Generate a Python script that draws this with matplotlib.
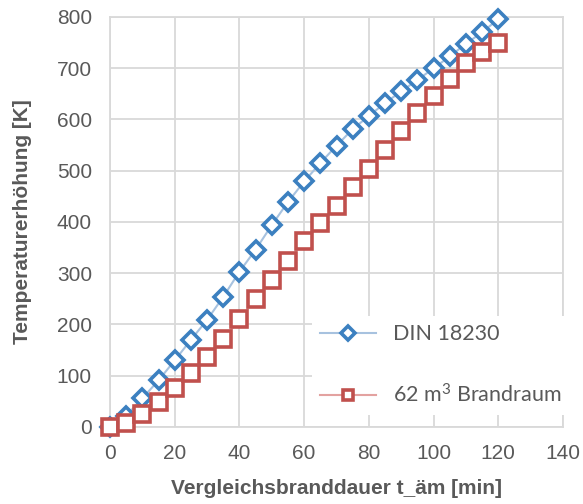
import matplotlib.pyplot as plt

# Vergleichsbranddauer in Minuten
zeit = [0, 5, 10, 15, 20, 25, 30, 35, 40, 45, 50, 55, 60,
        65, 70, 75, 80, 85, 90, 95, 100, 105, 110, 115, 120]

# Temperaturerhöhung nach DIN 18230
din_18230 = [0, 22, 56, 91, 130, 170, 209, 254, 303, 346, 394, 439, 479,
             515, 549, 581, 607, 632, 655, 677, 700, 723, 748, 770, 796]

# Temperaturerhöhung im 62 m³ Brandraum
brandraum = [0, 7, 25, 48, 77, 105, 136, 171, 210, 250, 287, 324, 362,
             398, 431, 468, 503, 540, 578, 612, 645, 679, 710, 732, 749]

grau = '#595959'
gitter = '#d9d9d9'

plt.rcParams['font.family'] = ['Liberation Sans', 'DejaVu Sans']
plt.rcParams['mathtext.fontset'] = 'custom'
plt.rcParams['mathtext.rm'] = 'Lato'
plt.rcParams['mathtext.default'] = 'regular'

fig = plt.figure(figsize=(5.83, 5.04), dpi=100)
ax = fig.add_axes([0.1887, 0.1528, 0.777, 0.8135])

ax.plot(zeit, din_18230, color='#a7c2df', linewidth=1.5,
        marker='D', markersize=9.5, markerfacecolor='white',
        markeredgecolor='#3c80c0', markeredgewidth=2.6,
        label='DIN 18230', zorder=3, clip_on=False)
ax.plot(zeit, brandraum, color='#e3a2a0', linewidth=1.5,
        marker='s', markersize=11, markerfacecolor='white',
        markeredgecolor='#c0504d', markeredgewidth=2.6,
        label='62 m$^3$ Brandraum', zorder=3, clip_on=False)

ax.set_xlim(0, 140)
ax.set_ylim(0, 800)
ax.set_xticks(range(0, 141, 20))
ax.set_yticks(range(0, 801, 100))
ax.grid(True, color=gitter, linewidth=1.3)
ax.set_axisbelow(True)
for s in ax.spines.values():
    s.set_color(gitter)
    s.set_linewidth(1.3)
ax.tick_params(length=0, labelsize=15, labelcolor=grau)
ax.tick_params(axis='y', pad=13)
ax.tick_params(axis='x', pad=12)

ax.set_xlabel('Vergleichsbranddauer t_äm [min]', fontsize=15, fontweight='bold',
              color=grau, labelpad=12)
ax.set_ylabel('Temperaturerhöhung [K]', fontsize=15, fontweight='bold',
              color=grau, labelpad=18)

leg = ax.legend(loc='lower left', bbox_to_anchor=(0.445, 0.03), frameon=True,
                facecolor='white', edgecolor='none', framealpha=1,
                prop={'family': ['Lato', 'DejaVu Sans'], 'size': 15.5},
                labelcolor=grau, handlelength=2.6,
                handletextpad=0.8, labelspacing=1.8, markerscale=0.7,
                borderaxespad=0)

fig.savefig('out.png', dpi=100)
